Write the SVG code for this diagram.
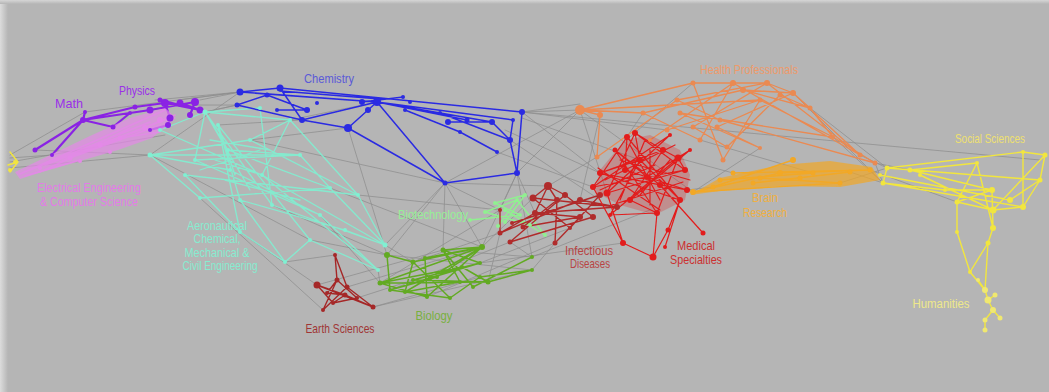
<svg xmlns="http://www.w3.org/2000/svg" width="1049" height="392" viewBox="0 0 1049 392">
<defs>
<linearGradient id="lg" x1="0" x2="1" y1="0" y2="0"><stop offset="0" stop-color="#dcdcdc"/><stop offset="1" stop-color="#b5b5b5"/></linearGradient>
<linearGradient id="tg" x1="0" x2="0" y1="0" y2="1"><stop offset="0" stop-color="#d6d6d6"/><stop offset="1" stop-color="#b5b5b5"/></linearGradient>
<filter id="soft" x="-5%" y="-5%" width="110%" height="110%"><feGaussianBlur stdDeviation="0.5"/></filter>
</defs>
<style>
#connectors path{fill:none;stroke-linecap:round;stroke-linejoin:round}
.g{stroke:#8e8e8e;stroke-width:1;opacity:.75}
.pu{stroke:#8a22e4;stroke-width:2.2}
.pk{stroke:#e489e8;stroke-width:1.6;opacity:.85}
.aq{stroke:#80f0d2;stroke-width:1.3;opacity:.9}
.bl{stroke:#2b2be2;stroke-width:1.5}
.gr{stroke:#62aa22;stroke-width:1.5}
.ea{stroke:#a52828;stroke-width:1.4}
.bt{stroke:#90f090;stroke-width:1.4}
.in{stroke:#b02c2c;stroke-width:1.4}
.md{stroke:#e21c1c;stroke-width:1.2}
.hp{stroke:#ea8a52;stroke-width:1.3}
.br{stroke:#f2a826;stroke-width:1.4}
.so{stroke:#f2e63e;stroke-width:1.4}
text{font-family:"Liberation Sans",Arial,sans-serif;font-size:13px;text-anchor:middle}
</style>
<rect width="1049" height="392" fill="#b5b5b5"/>
<rect width="8" height="392" fill="url(#lg)"/>
<rect width="1049" height="4" fill="url(#tg)"/>

<g id="connectors" filter="url(#soft)">
<path class="g" d="M10 155L85 112M10 162L165 135M10 168L150 155M85 112L240 92M200 100L240 92M150 155L240 92M165 105L237 105M205 112L237 105M218 125L302 120M250 140L348 128M290 120L377 102M522 112L580 110M517 173L580 110M522 112L600 173M497 152L593 187M445 183L548 186M445 183L500 210M445 183L443 250M445 183L387 255M517 173L500 210M385 245L413 262M378 270L380 283M310 240L387 255M285 262L335 255M240 232L317 285M200 198L323 310M358 195L500 210M330 188L482 247M373 307L480 277M347 287L482 247M357 298L413 280M488 282L500 233M532 270L555 243M482 247L533 198M532 257L510 242M480 263L570 228M687 190L713 187M678 158L733 173M810 108L887 168M833 137L883 183M875 163L910 170M840 183L887 168M850 172L883 183M522 112L1040 160M580 110L693 192M532 257L650 210M517 173L535 213M480 263L623 243M373 307L532 270M317 285L443 250M150 155L310 240M250 140L445 183M348 128L387 255M600 115L580 200M597 157L548 186M760 148L693 192M793 93L883 183M693 83L630 137M860 155L887 168M875 163L883 183M870 170L957 202M580 110L445 183M155 100L240 92M10 158L52 155M35 150L150 155M517 173L532 257M505 130L600 173M522 112L667 130M643 113L593 187M443 250L532 257M413 262L500 233M387 255L532 270M380 283L500 210M700 140L813 173M522 112L580 104M522 118L640 160M510 140L600 200M580 110L607 193M445 183L482 247M517 173L482 247M390 290L510 242M427 297L555 243M385 245L445 183M272 205L387 255M320 215L380 283M178 100L240 92M237 105L205 112"/>
<path class="pk" d="M20 174L165 110M30 170L150 122M45 165L170 118M60 162L130 128M40 172L110 140M70 158L160 125M90 150L175 115M100 145L140 130M120 138L160 132M25 176L80 160"/>
<path class="pu" d="M35 150L83 120M83 120L135 107M83 120L113 127M52 155L83 120M85 112L83 120M83 120L150 110M135 107L165 103M150 110L195 102M165 103L200 110M180 103L200 110M170 118L168 125M168 125L150 130M165 103L170 118M113 127L130 113M195 102L190 115M160 100L200 110M130 113L150 110"/>
<path class="aq" d="M150 155L300 155M150 155L250 140M150 155L230 170M205 112L228 150M205 112L272 205M218 125L310 240M228 150L330 188M250 140L358 195M262 175L385 245M262 175L378 270M272 205L385 245M230 170L320 215M320 215L378 270M185 175L240 232M240 232L285 262M285 262L310 240M200 198L330 188M290 120L262 175M260 108L272 205M290 120L358 195M250 140L290 120M228 150L300 155M205 112L260 108M218 125L240 200M240 200L345 230M345 230L385 245M195 160L300 155M185 175L358 195M160 130L262 175M150 155L200 198M300 155L330 188M330 188L385 245M310 240L378 270M358 195L385 245M195 160L320 215M218 125L240 232M205 112L195 160M240 200L285 262M160 130L205 112M205 112L290 120M210 140L270 150M215 160L262 175M225 180L300 200M205 112L250 190M218 125L235 175M200 170L260 150"/>
<path class="bl" d="M240 92L280 88M280 88L522 112M240 92L377 102M237 105L267 95M267 95L307 110M277 110L307 110M302 120L377 102M302 120L348 128M348 128L368 110M368 110L377 102M377 102L513 120M377 102L492 122M405 110L460 132M460 132L497 152M492 122L510 140M513 120L510 140M510 140L517 173M522 112L517 173M348 128L445 183M377 102L445 183M445 183L517 173M302 120L237 105M280 88L302 120M448 122L492 122M440 113L510 140M362 102L403 97M377 102L467 120M280 91L380 99"/>
<path class="gr" d="M380 283L482 247M380 283L488 282M390 290L480 263M387 255L413 262M413 262L482 247M425 258L482 247M443 250L482 247M443 250L473 287M413 262L450 298M413 280L480 263M405 292L482 247M427 297L482 247M437 277L482 247M437 277L390 290M462 267L380 283M473 287L532 257M488 282L532 270M450 298L480 277M425 258L427 297M413 280L488 282M405 292L460 282M460 282L443 250M390 290L450 298M380 283L427 297M480 277L532 270M387 255L390 290M413 262L405 292M462 267L488 282M480 263L443 250"/>
<path class="ea" d="M335 255L337 280M335 255L347 287M317 285L345 295M337 280L357 298M347 287L373 307M317 285L373 307M333 303L357 298M323 310L347 287M327 293L345 295M317 285L333 303M337 280L327 293M345 295L373 307M323 310L337 280M333 303L345 295"/>
<path class="bt" d="M485 212L517 200M495 203L520 215M505 210L530 225M517 200L545 235M505 222L525 195M485 212L530 225M470 220L520 215M498 226L517 200M495 203L525 195M505 210L545 235"/>
<path class="in" d="M548 186L557 200M548 186L533 198M548 186L535 213M533 198L617 207M535 213L617 207M500 210L500 233M500 233L580 200M510 242L593 217M512 223L600 195M523 227L580 217M533 198L570 228M557 200L555 243M565 195L593 217M535 213L580 217M523 227L557 200M510 242L565 195M500 233L535 213M580 200L617 207M548 186L565 195M570 228L600 195M555 243L580 217"/>
<path class="md" d="M635 133L685 170M627 137L680 200M635 133L607 193M627 137L593 187M663 150L600 173M678 158L657 213M685 170L593 187M600 173L687 190M640 160L680 200M647 177L593 187M615 150L660 185M660 185L600 173M630 200L663 150M625 170L687 190M670 135L607 193M690 150L630 200M607 193L623 243M623 243L653 257M653 257L668 230M668 230L680 200M653 257L657 213M703 233L660 185M665 247L680 200M610 215L678 158M615 150L657 213M640 160L610 215M593 187L623 243M670 135L593 187M690 150L647 177M635 133L663 150M627 137L625 170M625 170L647 177M663 150L678 158M678 158L685 170M660 185L687 190M657 213L630 200M600 173L640 160M615 150L647 177M635 133L640 160M610 215L657 213M600 173L680 200M607 193L685 170M620 160L690 180M630 145L660 200M645 140L620 200M655 165L600 190M605 180L675 145M612 205L683 182M640 195L670 160M598 168L660 210M650 150L650 205"/>
<path class="hp" d="M580 110L600 115M580 110L643 113M600 115L597 157M580 110L693 83M643 113L743 90M693 83L733 83M733 83L767 83M767 83L793 93M743 90L793 93M793 93L810 108M810 108L833 137M833 137L875 163M793 93L860 155M733 83L860 155M677 100L720 120M693 127L767 83M717 127L793 93M700 140L733 83M727 147L780 95M667 130L760 100M597 157L677 100M680 113L760 148M723 160L760 100M720 120L875 163M693 83L723 160M643 113L700 140M693 127L727 147M717 127L760 148M677 100L767 83M743 90L810 108M760 100L833 137M780 95L810 108M650 140L733 83M767 83L860 155M580 110L760 100M680 113L833 137"/>
<path class="br" d="M693 192L840 183M713 187L793 160M733 173L870 170M753 183L850 172M720 180L813 173M760 178L840 183M693 192L780 173M780 173L870 170"/>
<path class="so" d="M887 168L1040 180M883 183L1023 207M887 168L1023 152M1023 152L1045 155M1045 155L1040 180M910 170L977 163M977 163L957 202M957 202L992 190M992 190L993 228M993 228L988 243M988 243L970 272M970 272L957 232M957 232L957 202M883 183L945 190M945 190L992 190M993 210L1023 207M1023 207L1040 180M920 175L993 210M880 175L1010 200M1010 200L1040 180M887 168L883 183M910 170L992 190M977 163L993 228M1023 152L1023 207M1045 155L993 210M957 202L993 210M988 243L985 290M970 272L985 290"/>
<path class="so" d="M985 290L988 300M988 300L993 310M993 310L985 320M985 320L985 330M993 310L1000 318M978 280L985 290M995 295L988 300"/>
<path class="so" d="M10 152L18 162L10 172M18 162L8 165"/>
</g>

<g id="ee-cs">
<path d="M15 172L40 160L90 136L130 118L165 108L176 118L152 138L118 150L80 161L42 172L20 179Z" fill="#e489e8" opacity=".7" filter="url(#soft)"/>
<circle cx="40" cy="168" r="2" fill="#e489e8"/><circle cx="70" cy="158" r="2.5" fill="#e489e8"/><circle cx="100" cy="145" r="2.5" fill="#e489e8"/><circle cx="120" cy="138" r="2.5" fill="#e489e8"/><circle cx="145" cy="128" r="3" fill="#e489e8"/><circle cx="160" cy="120" r="3" fill="#e489e8"/><circle cx="110" cy="152" r="2" fill="#e489e8"/><circle cx="80" cy="161" r="2" fill="#e489e8"/>
<text x="89" y="192" fill="#e47ae8" textLength="104" lengthAdjust="spacingAndGlyphs">Electrical Engineering</text>
<text x="89" y="206" fill="#e47ae8" textLength="98" lengthAdjust="spacingAndGlyphs">&amp; Computer Science</text>
</g>

<g id="math-physics" fill="#8a22e4">
<circle cx="35" cy="150" r="2.5"/><circle cx="52" cy="155" r="2"/><circle cx="85" cy="112" r="2"/><circle cx="83" cy="120" r="3"/><circle cx="113" cy="127" r="2.5"/><circle cx="130" cy="113" r="2"/><circle cx="135" cy="107" r="2.5"/><circle cx="150" cy="110" r="3.5"/><circle cx="165" cy="103" r="4"/><circle cx="180" cy="103" r="3.5"/><circle cx="195" cy="102" r="4"/><circle cx="200" cy="110" r="3.5"/><circle cx="170" cy="118" r="3.5"/><circle cx="168" cy="125" r="3"/><circle cx="150" cy="130" r="2"/><circle cx="160" cy="100" r="2.5"/><circle cx="190" cy="115" r="3"/>
<text x="69" y="108" fill="#9a30e8" textLength="28" lengthAdjust="spacingAndGlyphs">Math</text>
<text x="137" y="95" fill="#9a30e8" textLength="36" lengthAdjust="spacingAndGlyphs">Physics</text>
</g>

<g id="aero-engineering" fill="#80f0d2">
<circle cx="205" cy="112" r="2.5"/><circle cx="218" cy="125" r="2"/><circle cx="150" cy="155" r="2.5"/><circle cx="250" cy="140" r="2"/><circle cx="228" cy="150" r="2"/><circle cx="262" cy="175" r="2"/><circle cx="300" cy="155" r="2"/><circle cx="272" cy="205" r="2"/><circle cx="310" cy="240" r="2"/><circle cx="330" cy="188" r="2"/><circle cx="358" cy="195" r="2"/><circle cx="385" cy="245" r="2.5"/><circle cx="378" cy="270" r="2"/><circle cx="285" cy="262" r="2"/><circle cx="240" cy="232" r="2"/><circle cx="200" cy="198" r="2"/><circle cx="185" cy="175" r="2"/><circle cx="230" cy="170" r="2"/><circle cx="290" cy="120" r="2"/><circle cx="260" cy="108" r="2"/><circle cx="195" cy="160" r="2"/><circle cx="320" cy="215" r="2"/><circle cx="345" cy="230" r="2"/><circle cx="240" cy="200" r="2"/><circle cx="160" cy="130" r="2"/>
<text x="217" y="230" fill="#86ecd0" textLength="60" lengthAdjust="spacingAndGlyphs">Aeronautical</text>
<text x="217" y="243" fill="#86ecd0" textLength="47" lengthAdjust="spacingAndGlyphs">Chemical,</text>
<text x="217" y="257" fill="#86ecd0" textLength="65" lengthAdjust="spacingAndGlyphs">Mechanical &amp;</text>
<text x="220" y="270" fill="#86ecd0" textLength="75" lengthAdjust="spacingAndGlyphs">Civil Engineering</text>
</g>

<g id="chemistry" fill="#2b2be2">
<circle cx="240" cy="92" r="3.5"/><circle cx="280" cy="88" r="3.5"/><circle cx="267" cy="95" r="2.5"/><circle cx="237" cy="105" r="2.5"/><circle cx="277" cy="110" r="2"/><circle cx="307" cy="110" r="3"/><circle cx="302" cy="120" r="3"/><circle cx="348" cy="128" r="4"/><circle cx="362" cy="102" r="3"/><circle cx="377" cy="102" r="4"/><circle cx="368" cy="110" r="3"/><circle cx="403" cy="97" r="2"/><circle cx="405" cy="110" r="2"/><circle cx="410" cy="102" r="2"/><circle cx="440" cy="113" r="2"/><circle cx="448" cy="122" r="3"/><circle cx="460" cy="132" r="2"/><circle cx="467" cy="120" r="2.5"/><circle cx="492" cy="122" r="3"/><circle cx="497" cy="152" r="2"/><circle cx="510" cy="140" r="3"/><circle cx="513" cy="120" r="2"/><circle cx="522" cy="112" r="3"/><circle cx="517" cy="173" r="3"/><circle cx="445" cy="183" r="2.5"/><circle cx="317" cy="103" r="2"/>
<text x="329" y="83" fill="#5a5ad8" textLength="50" lengthAdjust="spacingAndGlyphs">Chemistry</text>
</g>

<g id="biotechnology" fill="#90f090">
<circle cx="485" cy="212" r="2"/><circle cx="495" cy="203" r="2"/><circle cx="505" cy="210" r="2"/><circle cx="517" cy="200" r="2"/><circle cx="520" cy="215" r="2"/><circle cx="530" cy="225" r="2"/><circle cx="545" cy="235" r="2"/><circle cx="505" cy="222" r="2"/><circle cx="525" cy="195" r="2"/><circle cx="498" cy="226" r="2"/><circle cx="470" cy="220" r="2"/>
<text x="433" y="219" fill="#96f096" textLength="70" lengthAdjust="spacingAndGlyphs">Biotechnology</text>
</g>

<g id="biology" fill="#62aa22">
<circle cx="387" cy="255" r="3"/><circle cx="413" cy="262" r="2.5"/><circle cx="425" cy="258" r="2"/><circle cx="443" cy="250" r="2.5"/><circle cx="482" cy="247" r="3"/><circle cx="462" cy="267" r="2"/><circle cx="480" cy="263" r="2"/><circle cx="380" cy="283" r="2.5"/><circle cx="390" cy="290" r="2"/><circle cx="427" cy="297" r="2"/><circle cx="450" cy="298" r="2"/><circle cx="473" cy="287" r="2"/><circle cx="488" cy="282" r="2.5"/><circle cx="480" cy="277" r="2"/><circle cx="532" cy="257" r="2"/><circle cx="532" cy="270" r="2"/><circle cx="437" cy="277" r="2"/><circle cx="413" cy="280" r="2"/><circle cx="405" cy="292" r="2"/><circle cx="460" cy="282" r="2"/>
<text x="434" y="320" fill="#78b040" textLength="37" lengthAdjust="spacingAndGlyphs">Biology</text>
</g>

<g id="earth-sciences" fill="#a52828">
<circle cx="335" cy="255" r="2"/><circle cx="317" cy="285" r="3.5"/><circle cx="337" cy="280" r="2.5"/><circle cx="347" cy="287" r="2.5"/><circle cx="373" cy="307" r="2.5"/><circle cx="333" cy="303" r="2"/><circle cx="323" cy="310" r="2"/><circle cx="345" cy="295" r="2.5"/><circle cx="357" cy="298" r="2"/><circle cx="327" cy="293" r="2"/>
<text x="340" y="333" fill="#a03535" textLength="69" lengthAdjust="spacingAndGlyphs">Earth Sciences</text>
</g>

<g id="infectious-diseases" fill="#b02c2c">
<circle cx="548" cy="186" r="4"/><circle cx="533" cy="198" r="3.5"/><circle cx="535" cy="213" r="3"/><circle cx="500" cy="210" r="2"/><circle cx="500" cy="233" r="2.5"/><circle cx="510" cy="242" r="2.5"/><circle cx="555" cy="243" r="2.5"/><circle cx="570" cy="228" r="2"/><circle cx="557" cy="200" r="3"/><circle cx="580" cy="200" r="3"/><circle cx="593" cy="217" r="3"/><circle cx="617" cy="207" r="3"/><circle cx="580" cy="217" r="3"/><circle cx="523" cy="227" r="2.5"/><circle cx="512" cy="223" r="2"/><circle cx="565" cy="195" r="3"/><circle cx="600" cy="195" r="3"/>
<text x="589" y="255" fill="#b84444" textLength="48" lengthAdjust="spacingAndGlyphs">Infectious</text>
<text x="590" y="268" fill="#b84444" textLength="40" lengthAdjust="spacingAndGlyphs">Diseases</text>
</g>

<g id="medical-specialties" fill="#e21c1c">
<path d="M600 170L625 140L650 135L680 150L690 175L685 200L655 215L620 205L595 192Z" fill="#e21c1c" opacity=".25" filter="url(#soft)"/>
<circle cx="635" cy="133" r="3"/><circle cx="627" cy="137" r="3"/><circle cx="663" cy="150" r="3"/><circle cx="678" cy="158" r="3.5"/><circle cx="685" cy="170" r="3"/><circle cx="600" cy="173" r="3"/><circle cx="593" cy="187" r="3"/><circle cx="607" cy="193" r="3.5"/><circle cx="657" cy="213" r="3"/><circle cx="680" cy="200" r="3"/><circle cx="687" cy="190" r="3"/><circle cx="623" cy="243" r="3"/><circle cx="653" cy="257" r="3.5"/><circle cx="668" cy="230" r="2.5"/><circle cx="703" cy="233" r="2.5"/><circle cx="665" cy="247" r="2"/><circle cx="640" cy="160" r="3"/><circle cx="647" cy="177" r="3"/><circle cx="615" cy="150" r="2.5"/><circle cx="660" cy="185" r="3"/><circle cx="630" cy="200" r="3"/><circle cx="625" cy="170" r="3"/><circle cx="670" cy="135" r="2"/><circle cx="690" cy="150" r="2"/><circle cx="610" cy="215" r="2"/>
<text x="696" y="250" fill="#cc3030" textLength="38" lengthAdjust="spacingAndGlyphs">Medical</text>
<text x="696" y="264" fill="#cc3030" textLength="52" lengthAdjust="spacingAndGlyphs">Specialties</text>
</g>

<g id="health-professionals" fill="#ea8a52">
<circle cx="580" cy="110" r="5"/><circle cx="600" cy="115" r="3"/><circle cx="643" cy="113" r="2.5"/><circle cx="677" cy="100" r="2.5"/><circle cx="693" cy="83" r="2.5"/><circle cx="733" cy="83" r="3"/><circle cx="767" cy="83" r="3"/><circle cx="743" cy="90" r="3"/><circle cx="793" cy="93" r="3"/><circle cx="810" cy="108" r="2.5"/><circle cx="693" cy="127" r="2.5"/><circle cx="717" cy="127" r="2.5"/><circle cx="700" cy="140" r="2.5"/><circle cx="727" cy="147" r="2.5"/><circle cx="760" cy="148" r="2"/><circle cx="667" cy="130" r="2.5"/><circle cx="597" cy="157" r="2.5"/><circle cx="833" cy="137" r="2"/><circle cx="860" cy="155" r="2.5"/><circle cx="875" cy="163" r="2.5"/><circle cx="680" cy="113" r="2.5"/><circle cx="723" cy="160" r="2.5"/><circle cx="720" cy="120" r="2.5"/><circle cx="760" cy="100" r="2.5"/><circle cx="780" cy="95" r="2.5"/><circle cx="650" cy="140" r="2"/>
<text x="749" y="74" fill="#ee9a6a" textLength="98" lengthAdjust="spacingAndGlyphs">Health Professionals</text>
</g>

<g id="brain-research" fill="#f2a826">
<path d="M690 195L720 178L780 165L830 161L872 167L880 180L840 187L780 186L720 191Z" fill="#f2a826" opacity=".7" filter="url(#soft)"/>
<circle cx="693" cy="192" r="3"/><circle cx="713" cy="187" r="2.5"/><circle cx="733" cy="173" r="2.5"/><circle cx="753" cy="183" r="2.5"/><circle cx="780" cy="173" r="3"/><circle cx="793" cy="160" r="3"/><circle cx="813" cy="173" r="2.5"/><circle cx="840" cy="183" r="2.5"/><circle cx="760" cy="178" r="2.5"/><circle cx="800" cy="178" r="2.5"/><circle cx="720" cy="180" r="2.5"/><circle cx="850" cy="172" r="2.5"/><circle cx="870" cy="170" r="2.5"/>
<text x="765" y="202" fill="#f0b040" textLength="26" lengthAdjust="spacingAndGlyphs">Brain</text>
<text x="765" y="217" fill="#f0b040" textLength="44" lengthAdjust="spacingAndGlyphs">Research</text>
</g>

<g id="social-sciences" fill="#f2e63e">
<circle cx="1023" cy="152" r="2"/><circle cx="1045" cy="155" r="2.5"/><circle cx="887" cy="168" r="2.5"/><circle cx="910" cy="170" r="2.5"/><circle cx="883" cy="183" r="2.5"/><circle cx="957" cy="202" r="2.5"/><circle cx="977" cy="163" r="2"/><circle cx="992" cy="190" r="3"/><circle cx="993" cy="210" r="3.5"/><circle cx="993" cy="228" r="3"/><circle cx="1023" cy="207" r="3"/><circle cx="1040" cy="180" r="2.5"/><circle cx="957" cy="232" r="2"/><circle cx="970" cy="272" r="2"/><circle cx="988" cy="243" r="2.5"/><circle cx="920" cy="175" r="2"/><circle cx="945" cy="190" r="2"/><circle cx="1010" cy="200" r="3"/><circle cx="880" cy="175" r="2"/><circle cx="15" cy="162" r="2"/><circle cx="10" cy="170" r="2"/>
<text x="990" y="143" fill="#eee070" textLength="70" lengthAdjust="spacingAndGlyphs">Social Sciences</text>
</g>

<g id="humanities" fill="#f0e870">
<circle cx="985" cy="290" r="3"/><circle cx="988" cy="300" r="3.5"/><circle cx="993" cy="310" r="3"/><circle cx="985" cy="320" r="2.5"/><circle cx="985" cy="330" r="2.5"/><circle cx="1000" cy="318" r="2.5"/><circle cx="978" cy="280" r="2"/><circle cx="995" cy="295" r="2.5"/>
<text x="941" y="308" fill="#eee88a" textLength="57" lengthAdjust="spacingAndGlyphs">Humanities</text>
</g>
</svg>
